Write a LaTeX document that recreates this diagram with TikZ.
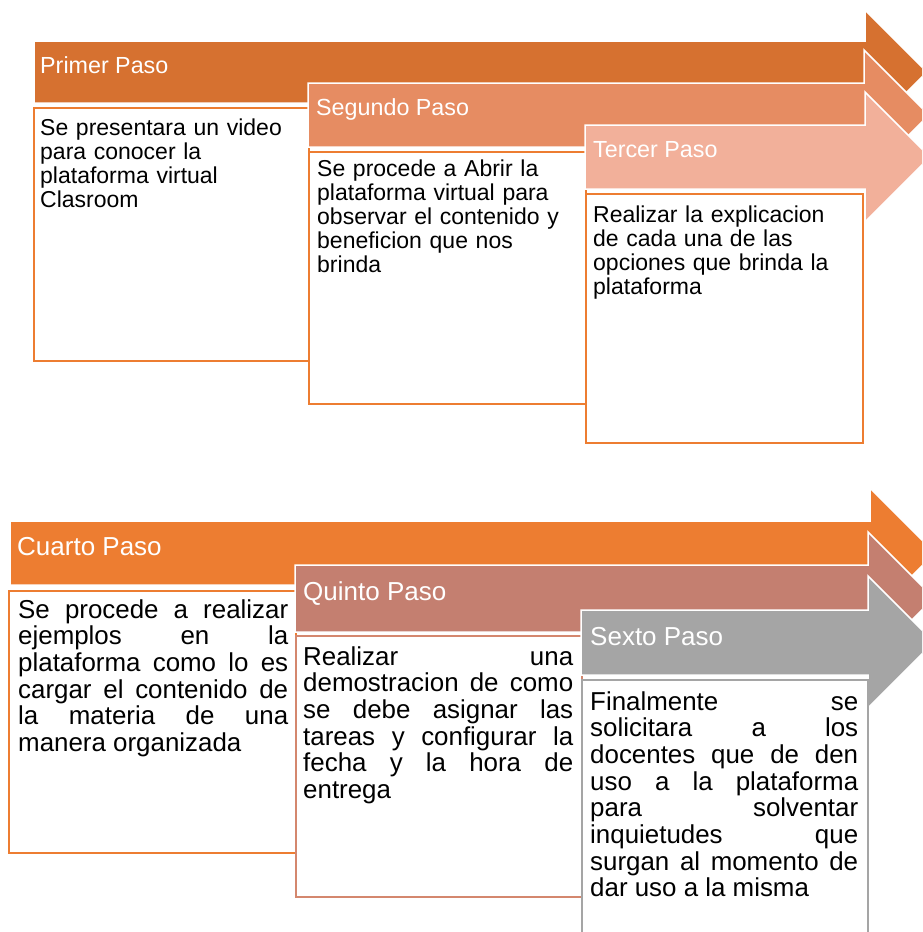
\documentclass[tikz,border=0pt]{standalone}
\usepackage{fontspec}
\setmainfont{Liberation Sans}
\usepackage{tikz}
\usetikzlibrary{calc}
\hbadness=10000
\definecolor{pasoA}{RGB}{214,113,48}
\definecolor{pasoB}{RGB}{230,140,98}
\definecolor{pasoC}{RGB}{242,176,154}
\definecolor{pasoD}{RGB}{237,125,49}
\definecolor{pasoE}{RGB}{196,127,112}
\definecolor{pasoF}{RGB}{165,165,165}
\definecolor{bordeE}{RGB}{212,135,110}
\tikzstyle{flecha} = [draw=white, line width=1.5pt, line join=miter]
\tikzstyle{caja} = [rectangle, 
draw=pasoD, 
line width=2pt, 
fill=white, 
anchor=north west, 
inner sep=0pt]
\tikzstyle{titulo} = [anchor=base west, inner sep=0pt, text=white, 
font=\fontsize{23.3}{24}\selectfont]
\tikzstyle{cuerpo} = [anchor=base west, inner sep=0pt, text=black, 
align=left, text width=265pt, 
font=\fontsize{23}{24}\selectfont]
\tikzstyle{cuerpoj} = [anchor=base west, inner sep=0pt, text=black, 
align=justify, text width=270pt, 
font=\fontsize{25.9}{26.7}\selectfont]

\begin{document}
\begin{tikzpicture} [x=1pt, y=-1pt]

    \useasboundingbox (0,0) rectangle (922,932);
    \clip (0,0) rectangle (922,932);

    % first row of steps
    \draw [flecha, fill=pasoA] (34,41) -- (865,41) -- (865,10) -- (927,72) -- (865,134) -- (865,103) -- (34,103) -- cycle;
    \node (Primer) [titulo] at (40,73) {Primer Paso};
    \node (Caja1) [caja, minimum width=275, minimum height=253] at (33,107) {};
    \node (Texto1) [cuerpo] at ($(Caja1.north west) + (7,28)$) {Se presentara un video\\para conocer la\\plataforma virtual\\Clasroom};

    \draw [flecha, fill=pasoB] (308,83) -- (864,83) -- (864,50) -- (929,115) -- (864,180) -- (864,147) -- (308,147) -- cycle;
    \node (Segundo) [titulo] at (316,115) {Segundo Paso};
    \node (Caja2) [caja, minimum width=277, minimum height=252] at (308,151) {};
    \node (Texto2) [cuerpo] at ($(Caja2.north west) + (9,25)$) {Se procede a Abrir la\\plataforma virtual para\\observar el contenido y\\beneficion que nos\\brinda};

    \draw [flecha, fill=pasoC] (585,125) -- (865,125) -- (865,92) -- (930,157) -- (865,222) -- (865,189) -- (585,189) -- cycle;
    \node (Tercer) [titulo] at (593,157) {Tercer Paso};
    \node (Caja3) [caja, minimum width=277, minimum height=249] at (585,193) {};
    \node (Texto3) [cuerpo] at ($(Caja3.north west) + (8,29)$) {Realizar la explicacion\\de cada una de las\\opciones que brinda la\\plataforma};

    % second row of steps
    \draw [flecha, fill=pasoD] (10,521) -- (870,521) -- (870,488) -- (935,553) -- (870,618) -- (870,585) -- (10,585) -- cycle;
    \node (Cuarto) [titulo, font=\fontsize{26}{27}\selectfont] at (17,555) {Cuarto Paso};
    \node (Caja4) [caja, minimum width=287, minimum height=262] at (8,590) {};
    \node (Texto4) [cuerpoj] at ($(Caja4.north west) + (10,28)$) {Se procede a realizar\linebreak ejemplos en la\linebreak plataforma como lo es\linebreak cargar el contenido de\linebreak la materia de una\linebreak manera organizada};

    \draw [flecha, fill=pasoE] (295,565) -- (868,565) -- (868,532) -- (934,598) -- (868,664) -- (868,632) -- (295,632) -- cycle;
    \node (Quinto) [titulo, font=\fontsize{26}{27}\selectfont] at (303,600) {Quinto Paso};
    \node (Caja5) [caja, draw=bordeE, minimum width=286, minimum height=261] at (295,635) {};
    \node (Texto5) [cuerpoj] at ($(Caja5.north west) + (8,30)$) {Realizar una\linebreak demostracion de como\linebreak se debe asignar las\linebreak tareas y configurar la\linebreak fecha y la hora de\linebreak entrega};

    \draw [flecha, fill=pasoF] (581,610) -- (868,610) -- (868,576) -- (934,642) -- (868,708) -- (868,675) -- (581,675) -- cycle;
    \node (Sexto) [titulo, font=\fontsize{26}{27}\selectfont] at (590,645) {Sexto Paso};
    \node (Caja6) [caja, draw=pasoF, minimum width=286, minimum height=266] at (581,679) {};
    \node (Texto6) [cuerpoj, text width=268pt] at ($(Caja6.north west) + (9,31)$) {Finalmente se\linebreak solicitara a los\linebreak docentes que de den\linebreak uso a la plataforma\linebreak para solventar\linebreak inquietudes que\linebreak surgan al momento de\linebreak dar uso a la misma};

\end{tikzpicture}
\end{document}
